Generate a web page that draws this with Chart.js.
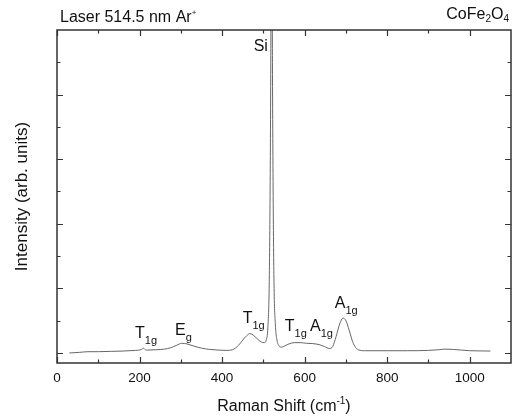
<!DOCTYPE html>
<html>
<head>
<meta charset="utf-8">
<script src="https://cdn.jsdelivr.net/npm/chart.js@4.4.1/dist/chart.umd.min.js"></script>
<style>
  html, body { margin: 0; padding: 0; background: #fff; }
  #wrap { width: 520px; height: 420px; }
</style>
</head>
<body>
<div id="wrap"><canvas id="raman" width="520" height="420"></canvas></div>
<script>
// Raman spectrum (cm-1 vs arb. intensity)
const shift = [30, 55, 75, 100, 130, 160, 190, 200, 205, 210, 214, 220, 240, 260, 275, 290, 302, 315, 330, 350, 370, 390, 410, 425, 440, 450, 460, 467, 475, 485, 495, 502, 507, 511, 514, 516, 518, 519, 520, 521, 522, 524, 526, 529, 533, 538, 544, 552, 562, 575, 590, 605, 620, 635, 648, 660, 668, 676, 685, 693, 700, 708, 716, 724, 732, 745, 800, 850, 900, 925, 940, 960, 980, 1000, 1025, 1050];
const intensity = [0.0, 0.01, 0.02, 0.02, 0.025, 0.03, 0.04, 0.045, 0.055, 0.075, 0.05, 0.045, 0.05, 0.06, 0.08, 0.12, 0.15, 0.14, 0.11, 0.075, 0.055, 0.045, 0.04, 0.05, 0.12, 0.2, 0.27, 0.3, 0.28, 0.22, 0.17, 0.16, 0.2, 0.4, 1.0, 2.2, 4.5, 6.5, 8.0, 6.5, 4.5, 2.2, 1.0, 0.45, 0.2, 0.11, 0.09, 0.11, 0.14, 0.16, 0.16, 0.15, 0.145, 0.13, 0.1, 0.07, 0.1, 0.25, 0.45, 0.54, 0.5, 0.35, 0.18, 0.08, 0.045, 0.035, 0.035, 0.035, 0.04, 0.05, 0.06, 0.055, 0.045, 0.035, 0.032, 0.03];

const xMajor = [0, 200, 400, 600, 800, 1000];
const xMinor = [100, 300, 500, 700, 900];
const yMajor = [0, 1, 2, 3, 4];
const yMinor = [0.5, 1.5, 2.5, 3.5, 4.5];

// peak assignments: [main letter, subscript, left edge (cm-1), baseline (intensity)]
const peakLabels = [
  ['T', '1g', 189, 0.232],
  ['E', 'g', 286, 0.279],
  ['T', '1g', 450, 0.464],
  ['T', '1g', 552, 0.341],
  ['A', '1g', 613, 0.341],
  ['A', '1g', 673, 0.697]
];

const FONT = 'Arial, "Liberation Sans", Helvetica, sans-serif';

function drawRich(ctx, parts, x, y, align) {
  let w = 0;
  parts.forEach(p => { ctx.font = p.size + 'px ' + FONT; w += ctx.measureText(p.t).width; });
  let cx = align === 'center' ? x - w / 2 : align === 'right' ? x - w : x;
  ctx.textAlign = 'left';
  ctx.textBaseline = 'alphabetic';
  parts.forEach(p => {
    ctx.font = p.size + 'px ' + FONT;
    ctx.fillText(p.t, cx, y + (p.dy || 0));
    cx += ctx.measureText(p.t).width;
  });
}

const frameAndText = {
  id: 'frameAndText',
  afterDatasetsDraw(chart) {
    const { ctx, chartArea: a, scales: { x, y } } = chart;
    ctx.save();
    ctx.strokeStyle = '#333';
    ctx.lineWidth = 1.5;
    ctx.strokeRect(a.left, a.top, a.right - a.left, a.bottom - a.top);

    ctx.lineWidth = 1.2;
    ctx.beginPath();
    const xt = (v, len) => {
      const px = Math.round(x.getPixelForValue(v)) + 0.5;
      ctx.moveTo(px, a.bottom); ctx.lineTo(px, a.bottom - len);
      ctx.moveTo(px, a.top); ctx.lineTo(px, a.top + len);
    };
    const yt = (v, len) => {
      const py = Math.round(y.getPixelForValue(v)) + 0.5;
      ctx.moveTo(a.left, py); ctx.lineTo(a.left + len, py);
      ctx.moveTo(a.right, py); ctx.lineTo(a.right - len, py);
    };
    xMajor.forEach(v => xt(v, 6));
    xMinor.forEach(v => xt(v, 3.5));
    yMajor.forEach(v => yt(v, 6));
    yMinor.forEach(v => yt(v, 3.5));
    ctx.stroke();

    ctx.fillStyle = '#111';
    ctx.font = '13.5px ' + FONT;
    ctx.textAlign = 'center';
    ctx.textBaseline = 'alphabetic';
    xMajor.forEach(v => ctx.fillText(String(v), x.getPixelForValue(v), a.bottom + 19));

    const cxPlot = (a.left + a.right) / 2;
    drawRich(ctx, [{ t: 'Raman Shift (cm', size: 16 }, { t: '-1', size: 10, dy: -7 }, { t: ')', size: 16 }], cxPlot, 411, 'center');

    ctx.save();
    ctx.translate(27, (a.top + a.bottom) / 2);
    ctx.rotate(-Math.PI / 2);
    drawRich(ctx, [{ t: 'Intensity (arb. units)', size: 17 }], 0, 0, 'center');
    ctx.restore();

    drawRich(ctx, [{ t: 'Laser 514.5 nm Ar', size: 16 }, { t: '+', size: 8, dy: -7 }], 60, 22, 'left');
    drawRich(ctx, [{ t: 'CoFe', size: 16 }, { t: '2', size: 10, dy: 3 }, { t: 'O', size: 16 }, { t: '4', size: 10, dy: 3 }], 509, 19, 'right');

    drawRich(ctx, [{ t: 'Si', size: 16 }], x.getPixelForValue(511), y.getPixelForValue(4.68), 'right');
    peakLabels.forEach(([m, s, cm, v]) => {
      drawRich(ctx, [{ t: m, size: 16 }, { t: s, size: 11, dy: 6 }], x.getPixelForValue(cm), y.getPixelForValue(v), 'left');
    });
    ctx.restore();
  }
};

new Chart(document.getElementById('raman'), {
  type: 'line',
  data: {
    datasets: [{
      data: shift.map((s, i) => ({ x: s, y: intensity[i] })),
      borderColor: '#666',
      borderWidth: 1,
      pointRadius: 0,
      fill: false,
      cubicInterpolationMode: 'monotone'
    }]
  },
  options: {
    responsive: false,
    animation: false,
    devicePixelRatio: 1,
    layout: { padding: { left: 57, right: 9, top: 30, bottom: 57 } },
    plugins: { legend: { display: false }, tooltip: { enabled: false } },
    scales: {
      x: { type: 'linear', min: 0, max: 1100, display: false },
      y: { type: 'linear', min: -0.155, max: 5, display: false }
    }
  },
  plugins: [frameAndText]
});
</script>
</body>
</html>
